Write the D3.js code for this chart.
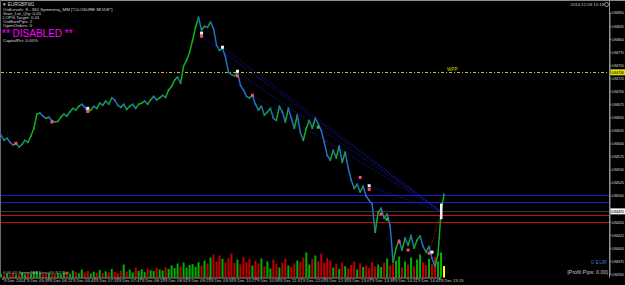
<!DOCTYPE html>
<html><head><meta charset="utf-8">
<script src="https://cdn.jsdelivr.net/npm/d3@7"></script>
<style>html,body{margin:0;padding:0;background:#000;overflow:hidden}svg{display:block}</style>
</head><body><svg id="c" width="625" height="285"></svg>
<script>
// ---- DATA ----
const closes = [
0.84616,0.84606,0.84610,0.84602,0.84597,0.84600,0.84593,0.84598,0.84606,0.84602,
0.84614,0.84629,0.84656,0.84658,0.84652,0.84648,0.84650,0.84644,0.84641,0.84642,
0.84650,0.84656,0.84652,0.84660,0.84667,0.84664,0.84671,0.84675,0.84669,0.84660,
0.84664,0.84671,0.84667,0.84677,0.84673,0.84681,0.84675,0.84687,0.84683,0.84673,
0.84669,0.84675,0.84665,0.84671,0.84675,0.84667,0.84675,0.84677,0.84681,0.84675,
0.84683,0.84690,0.84683,0.84687,0.84692,0.84688,0.84702,0.84709,0.84721,0.84727,
0.84715,0.84748,0.84759,0.84774,0.84797,0.84822,0.84841,0.84817,0.84824,0.84822,
0.84832,0.84820,0.84788,0.84778,0.84782,0.84765,0.84736,0.84732,0.84729,0.84736,
0.84711,0.84702,0.84690,0.84687,0.84692,0.84675,0.84664,0.84671,0.84654,0.84660,
0.84667,0.84648,0.84644,0.84671,0.84660,0.84641,0.84667,0.84648,0.84629,0.84654,
0.84621,0.84606,0.84629,0.84644,0.84629,0.84648,0.84637,0.84625,0.84602,0.84577,
0.84568,0.84587,0.84572,0.84595,0.84564,0.84583,0.84553,0.84530,0.84514,0.84522,
0.84507,0.84518,0.84499,0.84491,0.84484,0.84430,0.84468,0.84476,0.84457,0.84465,
0.84442,0.84373,0.84400,0.84415,0.84396,0.84419,0.84405,0.84424,0.84400,0.84415,
0.84423,0.84403,0.84392,0.84403,0.84380,0.84365,0.84388,0.84468,0.84503];
const volumes = [
12,8,15,10,18,9,14,20,11,16,13,22,25,18,12,15,20,10,14,17,12,
18,25,14,30,22,16,35,20,28,15,24,19,32,17,26,21,38,23,16,29,
60,25,34,20,45,28,36,22,40,31,27,44,35,
30,48,38,55,42,65,50,70,45,58,62,48,72,
55,80,65,95,110,75,105,88,70,92,115,68,85,60,98,72,88,55,78,66,90,
50,75,40,85,62,45,70,90,55,48,66,80,
72,95,120,60,88,105,75,115,68,92,80,
45,62,38,70,52,40,58,75,35,66,48,55,42,72,50,60,
48,70,90,55,65,80,100,45,75,60,95,52,85,110,70,58,88,62,98,75,120,52];
const priceTicks = [0.84850,0.84825,0.84800,0.84775,0.84750,0.84725,0.84700,0.84675,0.84650,0.84625,
0.84600,0.84575,0.84550,0.84525,0.84500,0.84475,0.84450,0.84425,0.84400,0.84375,0.84350];
const timeLabels = ["9 Dec 2014","9 Dec 05:39","9 Dec 06:11","9 Dec 06:43","9 Dec 07:15","9 Dec 07:47",
"9 Dec 08:19","9 Dec 08:51","9 Dec 09:23","9 Dec 09:55","9 Dec 10:27","9 Dec 10:59","9 Dec 11:31",
"9 Dec 12:03","9 Dec 12:35","9 Dec 13:07","9 Dec 13:39","9 Dec 14:11","9 Dec 14:43","9 Dec 15:15"];
const blueLevels = [0.84501, 0.84488];
const redLevels = [0.84463, 0.84449];
const pivotLevel = 0.84736;
const bidLevel = 0.84470;
const markerIdx   = [5, 17, 29, 29, 67, 67, 74, 79, 79, 84, 106, 120, 123, 123, 127, 129, 133, 136, 143, 144];
const markerPrice = [0.84600,0.84641,0.84667,0.84661,0.84805,0.84811,0.84784,0.84738,0.84729,0.84692,0.84631,0.84535,0.84519,0.84512,0.84465,0.84455,0.84412,0.84396,0.84390,0.84392];
const markerType  = ["sell","sell","close","sell","sell","close","close","close","sell","sell","buy","sell","close","sell","sell","buy","sell","sell","sell","close"];
const trendStartIdx   = [67, 74, 79, 84, 123];
const trendStartPrice = [0.84805, 0.84784, 0.84736, 0.84692, 0.84518];
const trendEnd = {i: 147, p: 0.84470};
const infoLines = ["OrdLevels: 8 - 361 Symmetry_MM [*CLOSURE MODE*]","Start_Lot_Qty: 0.01","LOPG Target: 0.01","OrdSizePips: 2","OpenOrders: 0"];

// ---- DRAW ----
const svg = d3.select('#c');
const W = 625, H = 285, plotR = 609.5, plotB = 277.5;
const F = 'Liberation Sans, Arial';
svg.append('rect').attr('width', W).attr('height', H).attr('fill', '#000');

const x = d3.scaleLinear().domain([0, closes.length - 1]).range([1, 444]);
const y = d3.scaleLinear().domain([0.84850, 0.84350]).range([12.7, 274.1]);
const vy = d3.scaleLinear().domain([0, 130]).range([plotB - 1, plotB - 27]);
const tx = d3.scalePoint().domain(timeLabels).range([2.5, 439.5]);

// frame
svg.append('line').attr('x1', 0).attr('x2', W).attr('y1', 0.5).attr('y2', 0.5).attr('stroke', '#8a8a8a');
svg.append('line').attr('x1', 0.5).attr('x2', 0.5).attr('y1', 0).attr('y2', plotB).attr('stroke', '#6a6a6a');

// horizontal levels
const hl = (p, col, dash) => svg.append('line').attr('x1', 1).attr('x2', plotR).attr('y1', Math.round(y(p)) + 0.5).attr('y2', Math.round(y(p)) + 0.5)
  .attr('stroke', col).attr('stroke-width', 1).attr('stroke-dasharray', dash || null);
hl(bidLevel, '#3a3a3a');
blueLevels.forEach(p => hl(p, '#1a1ad0'));
redLevels.forEach(p => hl(p, '#c01010'));
hl(pivotLevel, '#c8c800', '3,2,1,2');
svg.append('text').attr('x', 447).attr('y', y(pivotLevel) - 1).attr('fill', '#d0d000').attr('font-family', F).attr('font-size', 4.6).text('WPP');

// volumes
svg.append('g').selectAll('rect').data(volumes).join('rect')
  .attr('x', (d, i) => x(i) - 1).attr('width', 2)
  .attr('y', d => vy(d)).attr('height', d => vy(0) - vy(d) + 1)
  .attr('fill', (d, i) => i === volumes.length - 1 ? '#ffff00' : (i > 0 && closes[i] < closes[i - 1] ? '#c00000' : '#00b000'));

// trend dotted lines
trendStartIdx.forEach((s, k) => {
  svg.append('line').attr('x1', x(s)).attr('y1', y(trendStartPrice[k])).attr('x2', x(trendEnd.i)).attr('y2', y(trendEnd.p))
    .attr('stroke', '#1c1cc8').attr('stroke-width', 1).attr('stroke-dasharray', '1,1.5');
});
svg.append('line').attr('x1', x(143)).attr('y1', y(0.84390)).attr('x2', x(trendEnd.i)).attr('y2', y(trendEnd.p))
  .attr('stroke', '#d01010').attr('stroke-dasharray', '1,1.5');

// price line
const segs = d3.pairs(closes.map((c, i) => [i, c]));
svg.append('g').selectAll('line').data(segs).join('line')
  .attr('x1', d => x(d[0][0])).attr('y1', d => y(d[0][1]))
  .attr('x2', d => x(d[1][0])).attr('y2', d => y(d[1][1]))
  .attr('stroke', d => d[1][1] >= d[0][1] ? '#10b020' : '#2670c8')
  .attr('stroke-width', 1.5).attr('stroke-linecap', 'square');

// markers
const mcol = {sell: '#ff4a6a', buy: '#30c030', close: '#f0f0f0'};
svg.append('g').selectAll('rect').data(markerIdx).join('rect')
  .attr('x', (d, k) => x(d) - 1.5).attr('y', (d, k) => y(markerPrice[k]) - 1.5)
  .attr('width', 3).attr('height', 3).attr('fill', (d, k) => mcol[markerType[k]]);
svg.append('rect').attr('x', x(147) - 1).attr('y', y(0.84485)).attr('width', 2.5).attr('height', y(0.84455) - y(0.84485)).attr('fill', '#f0f0f0');

// right price axis
const ya = svg.append('g').attr('transform', `translate(${plotR},0)`)
  .call(d3.axisRight(y).tickValues(priceTicks).tickSize(1.5).tickPadding(0.4).tickFormat(d3.format('.5f')));
ya.select('.domain').attr('stroke', '#909090');
ya.selectAll('.tick line').attr('stroke', '#909090');
ya.selectAll('text').attr('fill', '#c8c8c8').attr('font-family', F).attr('font-size', 4).attr('letter-spacing', -0.3);
// the tick label hidden behind the bid box
ya.selectAll('.tick').filter(d => Math.abs(y(d) - y(bidLevel)) < 5).select('text').remove();

// level labels on axis
const lab = (p, bg) => {
  const g = svg.append('g').attr('transform', `translate(${plotR + 1},${y(p)})`);
  g.append('rect').attr('x', 0).attr('y', -3).attr('width', 14.5).attr('height', 6).attr('fill', bg);
  g.append('text').attr('x', 0.8).attr('y', 1.5).attr('fill', '#000').attr('font-family', F).attr('font-size', 4).attr('letter-spacing', -0.3)
    .text(d3.format('.5f')(p));
};
lab(pivotLevel, '#e0e000');
lab(bidLevel, '#f4f4f4');

// bottom time axis
const xa = svg.append('g').attr('transform', `translate(0,${plotB})`)
  .call(d3.axisBottom(tx).tickSize(2).tickPadding(1));
xa.select('.domain').attr('stroke', '#909090');
xa.selectAll('.tick line').attr('stroke', '#909090');
xa.selectAll('text').attr('fill', '#c8c8c8').attr('font-family', F).attr('font-size', 4.2)
  .attr('text-anchor', 'start').attr('dx', 1).attr('dy', '0.3em').attr('y', 3);
svg.append('line').attr('x1', plotR).attr('x2', plotR).attr('y1', 0).attr('y2', plotB).attr('stroke', '#909090');

// info text
svg.append('text').attr('x', 2).attr('y', 6).attr('fill', '#d8d8d8').attr('font-family', F).attr('font-size', 4.6).text('\u25BC EURGBP,M1');
infoLines.forEach((t, k) => svg.append('text').attr('x', 3).attr('y', 10.6 + k * 4.2).attr('fill', '#d8d8d8').attr('font-family', F).attr('font-size', 4.4).text(t));
svg.append('text').attr('x', 2).attr('y', 36.5).attr('fill', '#ff00ff').attr('font-family', F).attr('font-size', 10).text('** DISABLED **');
svg.append('text').attr('x', 3).attr('y', 42).attr('fill', '#d8d8d8').attr('font-family', F).attr('font-size', 4.4).text('CapitalPct: 0.00%');

svg.append('text').attr('x', 604).attr('y', 6).attr('text-anchor', 'end').attr('fill', '#c8c8c8').attr('font-family', F).attr('font-size', 4.3).text('2014.12.09 15:19');
svg.append('circle').attr('cx', 606.5).attr('cy', 4.5).attr('r', 2).attr('fill', 'none').attr('stroke', '#c8c8c8').attr('stroke-width', 0.7);

svg.append('text').attr('x', 607).attr('y', 264).attr('text-anchor', 'end').attr('fill', '#3f74b8').attr('font-family', F).attr('font-size', 5.4).text('0 EUR');
svg.append('text').attr('x', 608).attr('y', 273.5).attr('text-anchor', 'end').attr('fill', '#c8c8c8').attr('font-family', F).attr('font-size', 5.4).text('|Profit Pips: 0.00|');
svg.append('text').attr('x', 3).attr('y', 274).attr('fill', '#b8b8b8').attr('font-family', F).attr('font-size', 4.2).text('0.00 (0)  SymmMM Sess (0) 9.5 Bpt');
</script></body></html>
